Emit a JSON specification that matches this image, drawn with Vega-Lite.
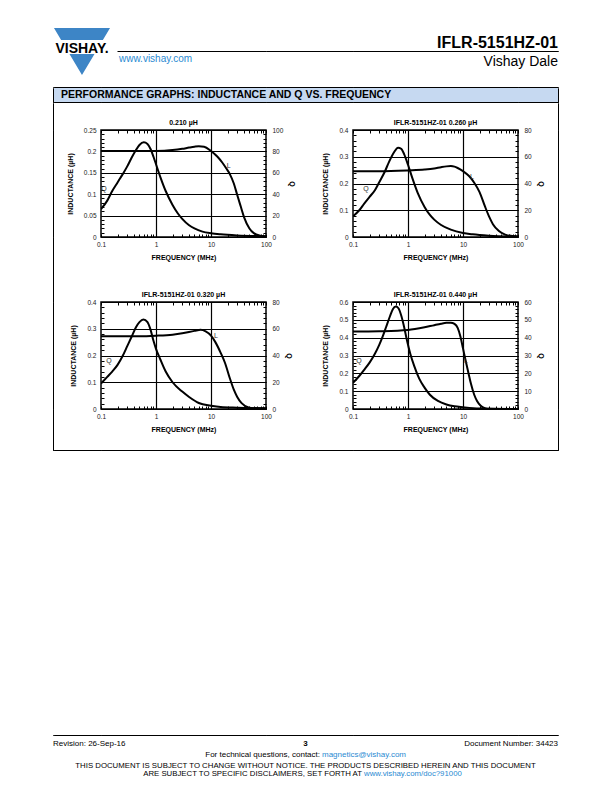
{
"$schema":"https://vega.github.io/schema/vega-lite/v6.json",
"padding":0,
"autosize":{"type":"pad"},
"background":"white",
"datasets":{
"curves":[
{"c":"c1","s":"L","f":0.1,"v":0.201},{"c":"c1","s":"L","f":0.2,"v":0.201},{"c":"c1","s":"L","f":0.5,"v":0.201},{"c":"c1","s":"L","f":1,"v":0.201},{"c":"c1","s":"L","f":2,"v":0.203},{"c":"c1","s":"L","f":3,"v":0.206},{"c":"c1","s":"L","f":4,"v":0.209},{"c":"c1","s":"L","f":5,"v":0.211},{"c":"c1","s":"L","f":6,"v":0.212},{"c":"c1","s":"L","f":7.5,"v":0.211},{"c":"c1","s":"L","f":10,"v":0.201},{"c":"c1","s":"L","f":13,"v":0.188},{"c":"c1","s":"L","f":16,"v":0.174},{"c":"c1","s":"L","f":19,"v":0.16},{"c":"c1","s":"L","f":22,"v":0.147},{"c":"c1","s":"L","f":26,"v":0.125},{"c":"c1","s":"L","f":30,"v":0.098},{"c":"c1","s":"L","f":35,"v":0.07},{"c":"c1","s":"L","f":40,"v":0.046},{"c":"c1","s":"L","f":50,"v":0.02},{"c":"c1","s":"L","f":60,"v":0.009},{"c":"c1","s":"L","f":80,"v":0.003},{"c":"c1","s":"L","f":100,"v":0.001},
{"c":"c1","s":"Q","f":0.1,"v":26},{"c":"c1","s":"Q","f":0.13,"v":34},{"c":"c1","s":"Q","f":0.16,"v":43},{"c":"c1","s":"Q","f":0.2,"v":51},{"c":"c1","s":"Q","f":0.25,"v":59},{"c":"c1","s":"Q","f":0.3,"v":66},{"c":"c1","s":"Q","f":0.36,"v":74},{"c":"c1","s":"Q","f":0.43,"v":81},{"c":"c1","s":"Q","f":0.5,"v":86},{"c":"c1","s":"Q","f":0.6,"v":88.5},{"c":"c1","s":"Q","f":0.7,"v":87},{"c":"c1","s":"Q","f":0.8,"v":82},{"c":"c1","s":"Q","f":0.9,"v":75},{"c":"c1","s":"Q","f":1,"v":68},{"c":"c1","s":"Q","f":1.2,"v":56},{"c":"c1","s":"Q","f":1.5,"v":43},{"c":"c1","s":"Q","f":2,"v":30},{"c":"c1","s":"Q","f":2.5,"v":22},{"c":"c1","s":"Q","f":3,"v":17},{"c":"c1","s":"Q","f":4,"v":11},{"c":"c1","s":"Q","f":5,"v":8},{"c":"c1","s":"Q","f":7,"v":5},{"c":"c1","s":"Q","f":10,"v":3.5},{"c":"c1","s":"Q","f":15,"v":2.5},{"c":"c1","s":"Q","f":30,"v":1.5},{"c":"c1","s":"Q","f":100,"v":0.8},
{"c":"c2","s":"L","f":0.1,"v":0.246},{"c":"c2","s":"L","f":0.3,"v":0.246},{"c":"c2","s":"L","f":1,"v":0.249},{"c":"c2","s":"L","f":2,"v":0.252},{"c":"c2","s":"L","f":3,"v":0.256},{"c":"c2","s":"L","f":4,"v":0.261},{"c":"c2","s":"L","f":5,"v":0.264},{"c":"c2","s":"L","f":6,"v":0.265},{"c":"c2","s":"L","f":7,"v":0.263},{"c":"c2","s":"L","f":8,"v":0.258},{"c":"c2","s":"L","f":10,"v":0.246},{"c":"c2","s":"L","f":13,"v":0.227},{"c":"c2","s":"L","f":16,"v":0.203},{"c":"c2","s":"L","f":20,"v":0.168},{"c":"c2","s":"L","f":25,"v":0.115},{"c":"c2","s":"L","f":30,"v":0.075},{"c":"c2","s":"L","f":35,"v":0.048},{"c":"c2","s":"L","f":45,"v":0.022},{"c":"c2","s":"L","f":60,"v":0.008},{"c":"c2","s":"L","f":100,"v":0.002},
{"c":"c2","s":"Q","f":0.1,"v":15.5},{"c":"c2","s":"Q","f":0.13,"v":20},{"c":"c2","s":"Q","f":0.16,"v":25},{"c":"c2","s":"Q","f":0.2,"v":30},{"c":"c2","s":"Q","f":0.25,"v":35},{"c":"c2","s":"Q","f":0.3,"v":41},{"c":"c2","s":"Q","f":0.38,"v":49},{"c":"c2","s":"Q","f":0.45,"v":56},{"c":"c2","s":"Q","f":0.55,"v":63},{"c":"c2","s":"Q","f":0.66,"v":66.8},{"c":"c2","s":"Q","f":0.75,"v":66},{"c":"c2","s":"Q","f":0.85,"v":62},{"c":"c2","s":"Q","f":1,"v":54},{"c":"c2","s":"Q","f":1.2,"v":44},{"c":"c2","s":"Q","f":1.5,"v":33},{"c":"c2","s":"Q","f":2,"v":22.5},{"c":"c2","s":"Q","f":2.5,"v":16.5},{"c":"c2","s":"Q","f":3,"v":13},{"c":"c2","s":"Q","f":4,"v":9},{"c":"c2","s":"Q","f":6,"v":5.5},{"c":"c2","s":"Q","f":10,"v":3},{"c":"c2","s":"Q","f":15,"v":2},{"c":"c2","s":"Q","f":30,"v":1},{"c":"c2","s":"Q","f":100,"v":0.3},
{"c":"c3","s":"L","f":0.1,"v":0.272},{"c":"c3","s":"L","f":0.5,"v":0.272},{"c":"c3","s":"L","f":1,"v":0.274},{"c":"c3","s":"L","f":2,"v":0.278},{"c":"c3","s":"L","f":3,"v":0.283},{"c":"c3","s":"L","f":5,"v":0.292},{"c":"c3","s":"L","f":6.5,"v":0.296},{"c":"c3","s":"L","f":8,"v":0.29},{"c":"c3","s":"L","f":10,"v":0.274},{"c":"c3","s":"L","f":12,"v":0.25},{"c":"c3","s":"L","f":15,"v":0.21},{"c":"c3","s":"L","f":18,"v":0.172},{"c":"c3","s":"L","f":22,"v":0.115},{"c":"c3","s":"L","f":26,"v":0.072},{"c":"c3","s":"L","f":30,"v":0.045},{"c":"c3","s":"L","f":36,"v":0.022},{"c":"c3","s":"L","f":48,"v":0.006},{"c":"c3","s":"L","f":60,"v":0.003},{"c":"c3","s":"L","f":100,"v":0.002},
{"c":"c3","s":"Q","f":0.1,"v":19},{"c":"c3","s":"Q","f":0.13,"v":24},{"c":"c3","s":"Q","f":0.16,"v":28},{"c":"c3","s":"Q","f":0.2,"v":33},{"c":"c3","s":"Q","f":0.25,"v":40},{"c":"c3","s":"Q","f":0.3,"v":47},{"c":"c3","s":"Q","f":0.36,"v":54},{"c":"c3","s":"Q","f":0.43,"v":61},{"c":"c3","s":"Q","f":0.5,"v":65},{"c":"c3","s":"Q","f":0.59,"v":67},{"c":"c3","s":"Q","f":0.7,"v":65},{"c":"c3","s":"Q","f":0.8,"v":59},{"c":"c3","s":"Q","f":0.9,"v":51},{"c":"c3","s":"Q","f":1,"v":45},{"c":"c3","s":"Q","f":1.2,"v":37},{"c":"c3","s":"Q","f":1.5,"v":28},{"c":"c3","s":"Q","f":2,"v":20},{"c":"c3","s":"Q","f":3,"v":13},{"c":"c3","s":"Q","f":4,"v":9},{"c":"c3","s":"Q","f":6,"v":4.5},{"c":"c3","s":"Q","f":10,"v":2.5},{"c":"c3","s":"Q","f":15,"v":1.5},{"c":"c3","s":"Q","f":30,"v":1},{"c":"c3","s":"Q","f":100,"v":0.5},
{"c":"c4","s":"L","f":0.1,"v":0.434},{"c":"c4","s":"L","f":0.3,"v":0.436},{"c":"c4","s":"L","f":1,"v":0.443},{"c":"c4","s":"L","f":2,"v":0.458},{"c":"c4","s":"L","f":3,"v":0.47},{"c":"c4","s":"L","f":4,"v":0.478},{"c":"c4","s":"L","f":5,"v":0.483},{"c":"c4","s":"L","f":6,"v":0.484},{"c":"c4","s":"L","f":7,"v":0.477},{"c":"c4","s":"L","f":8,"v":0.455},{"c":"c4","s":"L","f":9,"v":0.405},{"c":"c4","s":"L","f":10,"v":0.34},{"c":"c4","s":"L","f":11,"v":0.28},{"c":"c4","s":"L","f":12.5,"v":0.205},{"c":"c4","s":"L","f":14,"v":0.14},{"c":"c4","s":"L","f":16,"v":0.08},{"c":"c4","s":"L","f":18,"v":0.045},{"c":"c4","s":"L","f":21,"v":0.018},{"c":"c4","s":"L","f":25,"v":0.005},{"c":"c4","s":"L","f":30,"v":0.001},{"c":"c4","s":"L","f":100,"v":0},
{"c":"c4","s":"Q","f":0.1,"v":14.7},{"c":"c4","s":"Q","f":0.13,"v":18.5},{"c":"c4","s":"Q","f":0.16,"v":22},{"c":"c4","s":"Q","f":0.2,"v":26},{"c":"c4","s":"Q","f":0.25,"v":31},{"c":"c4","s":"Q","f":0.3,"v":36},{"c":"c4","s":"Q","f":0.35,"v":41},{"c":"c4","s":"Q","f":0.4,"v":46},{"c":"c4","s":"Q","f":0.47,"v":52},{"c":"c4","s":"Q","f":0.53,"v":56},{"c":"c4","s":"Q","f":0.6,"v":57.5},{"c":"c4","s":"Q","f":0.67,"v":56.5},{"c":"c4","s":"Q","f":0.76,"v":52},{"c":"c4","s":"Q","f":0.85,"v":46},{"c":"c4","s":"Q","f":0.95,"v":39},{"c":"c4","s":"Q","f":1.1,"v":31},{"c":"c4","s":"Q","f":1.3,"v":24},{"c":"c4","s":"Q","f":1.6,"v":17},{"c":"c4","s":"Q","f":2,"v":12},{"c":"c4","s":"Q","f":2.5,"v":8},{"c":"c4","s":"Q","f":3.5,"v":4.5},{"c":"c4","s":"Q","f":5,"v":2.5},{"c":"c4","s":"Q","f":7,"v":1.5},{"c":"c4","s":"Q","f":10,"v":1},{"c":"c4","s":"Q","f":20,"v":0.3},{"c":"c4","s":"Q","f":100,"v":0}
],
"labels":[
{"c":"c1","t":"L","f":21,"v":0.165},{"c":"c1","t":"Q","f":0.113,"v":0.113},
{"c":"c2","t":"L","f":14.6,"v":0.223},{"c":"c2","t":"Q","f":0.172,"v":0.181},
{"c":"c3","t":"L","f":12.3,"v":0.273},{"c":"c3","t":"Q","f":0.14,"v":0.179},
{"c":"c4","t":"L","f":11.3,"v":0.269},{"c":"c4","t":"Q","f":0.129,"v":0.269}
],
"logo":[{"t":"VISHAY."}]
},
"columns":8,
"spacing":0,
"bounds":"flush",
"align":"each",
"concat":[
{"width":53,"height":28,"data":{"values":[]},"mark":"point"},
{"width":0.01,"height":0.01,"data":{"values":[]},"mark":"point"},{"width":0.01,"height":0.01,"data":{"values":[]},"mark":"point"},{"width":0.01,"height":0.01,"data":{"values":[]},"mark":"point"},{"width":0.01,"height":0.01,"data":{"values":[]},"mark":"point"},{"width":0.01,"height":0.01,"data":{"values":[]},"mark":"point"},{"width":0.01,"height":0.01,"data":{"values":[]},"mark":"point"},{"width":0.01,"height":0.01,"data":{"values":[]},"mark":"point"},

{"width":53,"height":23,"data":{"values":[]},"mark":"point"},
{"width":0.01,"height":0.01,"data":{"values":[]},"mark":"point"},
{"width":47,"height":23,"data":{"name":"logo"},"layer":[
  {"mark":{"type":"point","shape":"M-0.811,-0.397L1.121,-0.397L0.875,0.017L-0.565,0.017Z M-0.277,0.5L0.587,0.5L0.155,1.224Z","size":3364,"filled":true,"color":"#3d85c6","opacity":1,"strokeWidth":0},"encoding":{}},
  {"mark":{"type":"text","fontSize":14,"fontWeight":"bold","dx":4.5,"dy":9,"color":"black","font":"Liberation Sans"},"encoding":{"text":{"field":"t"}}}
]},
{"width":0.01,"height":0.01,"data":{"values":[]},"mark":"point"},{"width":0.01,"height":0.01,"data":{"values":[]},"mark":"point"},{"width":0.01,"height":0.01,"data":{"values":[]},"mark":"point"},{"width":0.01,"height":0.01,"data":{"values":[]},"mark":"point"},{"width":0.01,"height":0.01,"data":{"values":[]},"mark":"point"},

{"width":0.01,"height":0.01,"data":{"values":[]},"mark":"point"},{"width":0.01,"height":0.01,"data":{"values":[]},"mark":"point"},{"width":0.01,"height":0.01,"data":{"values":[]},"mark":"point"},
{"width":165,"height":0.01,"data":{"values":[]},"mark":"point","view":{"stroke":"black","strokeWidth":1,"strokeDash":[0,16,149,400]}},
{"width":87,"height":0.01,"data":{"values":[]},"mark":"point","view":{"stroke":"black","strokeWidth":1}},
{"width":165,"height":0.01,"data":{"values":[]},"mark":"point","view":{"stroke":"black","strokeWidth":1}},
{"width":40,"height":0.01,"data":{"values":[]},"mark":"point","view":{"stroke":"black","strokeWidth":1},
 "title":{"text":"IFLR-5151HZ-01","orient":"top","anchor":"end","frame":"group","offset":0,"dy":12.5,"baseline":"alphabetic","fontSize":16,"fontWeight":"bold","color":"black"}},
{"width":0.01,"height":0.01,"data":{"values":[]},"mark":"point"},

{"width":0.01,"height":0.01,"data":{"values":[]},"mark":"point"},{"width":0.01,"height":0.01,"data":{"values":[]},"mark":"point"},{"width":0.01,"height":0.01,"data":{"values":[]},"mark":"point"},
{"width":165,"height":0.01,"data":{"values":[]},"mark":"point",
 "title":{"text":"www.vishay.com","orient":"bottom","anchor":"start","frame":"group","offset":2,"baseline":"top","fontSize":10,"fontWeight":"normal","color":"#2a8ad2","dx":18}},
{"width":0.01,"height":0.01,"data":{"values":[]},"mark":"point"},{"width":0.01,"height":0.01,"data":{"values":[]},"mark":"point"},
{"width":40,"height":0.01,"data":{"values":[]},"mark":"point",
 "title":{"text":"Vishay Dale","orient":"bottom","anchor":"end","frame":"group","offset":3,"baseline":"top","fontSize":14,"fontWeight":"normal","color":"black"}},
{"width":0.01,"height":0.01,"data":{"values":[]},"mark":"point"},

{"width":53,"height":34,"data":{"values":[]},"mark":"point"},
{"width":0.01,"height":0.01,"data":{"values":[]},"mark":"point"},{"width":0.01,"height":0.01,"data":{"values":[]},"mark":"point"},{"width":0.01,"height":0.01,"data":{"values":[]},"mark":"point"},{"width":0.01,"height":0.01,"data":{"values":[]},"mark":"point"},{"width":0.01,"height":0.01,"data":{"values":[]},"mark":"point"},{"width":0.01,"height":0.01,"data":{"values":[]},"mark":"point"},{"width":0.01,"height":0.01,"data":{"values":[]},"mark":"point"},

{"width":0.01,"height":0.01,"data":{"values":[]},"mark":"point"},
{"width":1,"height":0.01,"data":{"values":[]},"mark":"point","view":{"stroke":"black","strokeWidth":1}},
{"width":47,"height":0.01,"data":{"values":[]},"mark":"point","view":{"stroke":"black","strokeWidth":1}},
{"width":165,"height":0.01,"data":{"values":[]},"mark":"point","view":{"stroke":"black","strokeWidth":1}},
{"width":87,"height":0.01,"data":{"values":[]},"mark":"point","view":{"stroke":"black","strokeWidth":1}},
{"width":165,"height":0.01,"data":{"values":[]},"mark":"point","view":{"stroke":"black","strokeWidth":1}},
{"width":40,"height":0.01,"data":{"values":[]},"mark":"point","view":{"stroke":"black","strokeWidth":1}},
{"width":0.01,"height":0.01,"data":{"values":[]},"mark":"point"},

{"width":0.01,"height":0.01,"data":{"values":[]},"mark":"point"},
{"width":0.01,"height":14,"data":{"values":[]},"mark":"point","view":{"stroke":"black","strokeWidth":1}},
{"width":47,"height":14,"data":{"values":[]},"mark":"point","view":{"fill":"#c6d9f1"}},
{"width":165,"height":14,"data":{"values":[]},"mark":"point","view":{"fill":"#c6d9f1"}},
{"width":87,"height":14,"data":{"values":[]},"mark":"point","view":{"fill":"#c6d9f1"}},
{"width":165,"height":14,"data":{"values":[]},"mark":"point","view":{"fill":"#c6d9f1"}},
{"width":40,"height":14,"data":{"values":[]},"mark":"point","view":{"fill":"#c6d9f1"}},
{"width":0.01,"height":14,"data":{"values":[]},"mark":"point","view":{"stroke":"black","strokeWidth":1}},

{"width":0.01,"height":0.01,"data":{"values":[]},"mark":"point"},
{"width":1,"height":0.01,"data":{"values":[]},"mark":"point","view":{"stroke":"black","strokeWidth":1}},
{"width":47,"height":0.01,"data":{"values":[]},"mark":"point","view":{"stroke":"black","strokeWidth":1},
 "title":{"text":"PERFORMANCE GRAPHS: INDUCTANCE AND Q VS. FREQUENCY","orient":"top","anchor":"start","frame":"group","offset":0,"dy":6.5,"baseline":"alphabetic","fontSize":10.5,"fontWeight":"bold","color":"black","dx":7}},
{"width":165,"height":0.01,"data":{"values":[]},"mark":"point","view":{"stroke":"black","strokeWidth":1}},
{"width":87,"height":0.01,"data":{"values":[]},"mark":"point","view":{"stroke":"black","strokeWidth":1}},
{"width":165,"height":0.01,"data":{"values":[]},"mark":"point","view":{"stroke":"black","strokeWidth":1}},
{"width":40,"height":0.01,"data":{"values":[]},"mark":"point","view":{"stroke":"black","strokeWidth":1}},
{"width":0.01,"height":0.01,"data":{"values":[]},"mark":"point"},

{"width":0.01,"height":0.01,"data":{"values":[]},"mark":"point"},
{"width":0.01,"height":27,"data":{"values":[]},"mark":"point","view":{"stroke":"black","strokeWidth":1}},
{"width":0.01,"height":0.01,"data":{"values":[]},"mark":"point"},{"width":0.01,"height":0.01,"data":{"values":[]},"mark":"point"},{"width":0.01,"height":0.01,"data":{"values":[]},"mark":"point"},{"width":0.01,"height":0.01,"data":{"values":[]},"mark":"point"},{"width":0.01,"height":0.01,"data":{"values":[]},"mark":"point"},
{"width":0.01,"height":27,"data":{"values":[]},"mark":"point","view":{"stroke":"black","strokeWidth":1}},

{"width":0.01,"height":0.01,"data":{"values":[]},"mark":"point"},
{"width":0.01,"height":107,"data":{"values":[]},"mark":"point","view":{"stroke":"black","strokeWidth":1}},
{"width":0.01,"height":0.01,"data":{"values":[]},"mark":"point"},
{"width":165,"height":107,"view":{"stroke":"black","strokeWidth":1.5},
 "title":{"text":"0.210 µH","fontSize":7,"fontWeight":"bold","anchor":"middle","frame":"group","offset":1,"color":"black"},
 "layer":[
  {"layer":[
   {"data":{"name":"curves"},"transform":[{"filter":"datum.c=='c1' && datum.s=='L'"}],
    "mark":{"type":"line","color":"black","strokeWidth":2,"interpolate":"monotone","clip":true},
    "encoding":{
     "x":{"field":"f","type":"quantitative","scale":{"type":"log","domain":[0.1,100],"nice":false},"axis":{"orient":"bottom","values":[0.1,0.2,0.3,0.4,0.5,0.6,0.7,0.8,0.9,1,2,3,4,5,6,7,8,9,10,20,30,40,50,60,70,80,90,100],"labelExpr":"datum.value==0.1?'0.1':datum.value==1?'1':datum.value==10?'10':datum.value==100?'100':''","gridOpacity":{"condition":{"test":"datum.value==1||datum.value==10","value":1},"value":0},"tickSize":-3,"labelPadding":7,"title":"FREQUENCY (MHz)","titlePadding":6,"labelFlush":false,"labelOverlap":false}},
     "y":{"field":"v","type":"quantitative","scale":{"domain":[0,0.25],"nice":false},"axis":{"orient":"left","values":[0,0.01,0.02,0.03,0.04,0.05,0.06,0.07,0.08,0.09,0.1,0.11,0.12,0.13,0.14,0.15,0.16,0.17,0.18,0.19,0.2,0.21,0.22,0.23,0.24,0.25],"labelExpr":"round(datum.value*100)%5==0?format(datum.value,'~g'):''","gridOpacity":{"condition":{"test":"round(datum.value*100)%5==0","value":1},"value":0},"tickSize":-3,"labelPadding":8,"title":"INDUCTANCE (µH)","titlePadding":10,"labelFlush":false,"labelOverlap":false}}}},
   {"data":{"name":"labels"},"transform":[{"filter":"datum.c=='c1'"}],
    "mark":{"type":"text","fontSize":7,"color":"#333"},
    "encoding":{
     "x":{"field":"f","type":"quantitative","scale":{"type":"log","domain":[0.1,100],"nice":false},"axis":{"orient":"bottom","values":[0.1,0.2,0.3,0.4,0.5,0.6,0.7,0.8,0.9,1,2,3,4,5,6,7,8,9,10,20,30,40,50,60,70,80,90,100],"labelExpr":"datum.value==0.1?'0.1':datum.value==1?'1':datum.value==10?'10':datum.value==100?'100':''","gridOpacity":{"condition":{"test":"datum.value==1||datum.value==10","value":1},"value":0},"tickSize":-3,"labelPadding":7,"title":"FREQUENCY (MHz)","titlePadding":6,"labelFlush":false,"labelOverlap":false}},
     "y":{"field":"v","type":"quantitative","scale":{"domain":[0,0.25],"nice":false},"axis":{"orient":"left","values":[0,0.01,0.02,0.03,0.04,0.05,0.06,0.07,0.08,0.09,0.1,0.11,0.12,0.13,0.14,0.15,0.16,0.17,0.18,0.19,0.2,0.21,0.22,0.23,0.24,0.25],"labelExpr":"round(datum.value*100)%5==0?format(datum.value,'~g'):''","gridOpacity":{"condition":{"test":"round(datum.value*100)%5==0","value":1},"value":0},"tickSize":-3,"labelPadding":8,"title":"INDUCTANCE (µH)","titlePadding":10,"labelFlush":false,"labelOverlap":false}},
     "text":{"field":"t"}}}
  ]},
  {"data":{"name":"curves"},"transform":[{"filter":"datum.c=='c1' && datum.s=='Q'"}],
   "mark":{"type":"line","color":"black","strokeWidth":2,"interpolate":"monotone","clip":true},
   "encoding":{
    "x":{"field":"f","type":"quantitative","scale":{"type":"log","domain":[0.1,100],"nice":false},"axis":{"orient":"top","values":[0.1,0.2,0.3,0.4,0.5,0.6,0.7,0.8,0.9,1,2,3,4,5,6,7,8,9,10,20,30,40,50,60,70,80,90,100],"labels":false,"grid":false,"tickSize":-3,"title":null}},
    "y":{"field":"v","type":"quantitative","scale":{"domain":[0,100],"nice":false},"axis":{"orient":"right","values":[0,4,8,12,16,20,24,28,32,36,40,44,48,52,56,60,64,68,72,76,80,84,88,92,96,100],"labelExpr":"datum.value%20==0?format(datum.value,'~g'):''","grid":false,"tickSize":-3,"labelPadding":9,"title":"Q","titlePadding":6,"labelFlush":false,"labelOverlap":false}}}}
 ],
 "resolve":{"scale":{"y":"independent"},"axis":{"x":"independent","y":"independent"}}},
{"width":0.01,"height":0.01,"data":{"values":[]},"mark":"point"},
{"width":165,"height":107,"view":{"stroke":"black","strokeWidth":1.5},
 "title":{"text":"IFLR-5151HZ-01 0.260 µH","fontSize":7,"fontWeight":"bold","anchor":"middle","frame":"group","offset":1,"color":"black"},
 "layer":[
  {"layer":[
   {"data":{"name":"curves"},"transform":[{"filter":"datum.c=='c2' && datum.s=='L'"}],
    "mark":{"type":"line","color":"black","strokeWidth":2,"interpolate":"monotone","clip":true},
    "encoding":{
     "x":{"field":"f","type":"quantitative","scale":{"type":"log","domain":[0.1,100],"nice":false},"axis":{"orient":"bottom","values":[0.1,0.2,0.3,0.4,0.5,0.6,0.7,0.8,0.9,1,2,3,4,5,6,7,8,9,10,20,30,40,50,60,70,80,90,100],"labelExpr":"datum.value==0.1?'0.1':datum.value==1?'1':datum.value==10?'10':datum.value==100?'100':''","gridOpacity":{"condition":{"test":"datum.value==1||datum.value==10","value":1},"value":0},"tickSize":-3,"labelPadding":7,"title":"FREQUENCY (MHz)","titlePadding":6,"labelFlush":false,"labelOverlap":false}},
     "y":{"field":"v","type":"quantitative","scale":{"domain":[0,0.4],"nice":false},"axis":{"orient":"left","values":[0,0.02,0.04,0.06,0.08,0.1,0.12,0.14,0.16,0.18,0.2,0.22,0.24,0.26,0.28,0.3,0.32,0.34,0.36,0.38,0.4],"labelExpr":"round(datum.value*100)%10==0?format(datum.value,'~g'):''","gridOpacity":{"condition":{"test":"round(datum.value*100)%10==0","value":1},"value":0},"tickSize":-3,"labelPadding":8,"title":"INDUCTANCE (µH)","titlePadding":10,"labelFlush":false,"labelOverlap":false}}}},
   {"data":{"name":"labels"},"transform":[{"filter":"datum.c=='c2'"}],
    "mark":{"type":"text","fontSize":7,"color":"#333"},
    "encoding":{
     "x":{"field":"f","type":"quantitative","scale":{"type":"log","domain":[0.1,100],"nice":false},"axis":{"orient":"bottom","values":[0.1,0.2,0.3,0.4,0.5,0.6,0.7,0.8,0.9,1,2,3,4,5,6,7,8,9,10,20,30,40,50,60,70,80,90,100],"labelExpr":"datum.value==0.1?'0.1':datum.value==1?'1':datum.value==10?'10':datum.value==100?'100':''","gridOpacity":{"condition":{"test":"datum.value==1||datum.value==10","value":1},"value":0},"tickSize":-3,"labelPadding":7,"title":"FREQUENCY (MHz)","titlePadding":6,"labelFlush":false,"labelOverlap":false}},
     "y":{"field":"v","type":"quantitative","scale":{"domain":[0,0.4],"nice":false},"axis":{"orient":"left","values":[0,0.02,0.04,0.06,0.08,0.1,0.12,0.14,0.16,0.18,0.2,0.22,0.24,0.26,0.28,0.3,0.32,0.34,0.36,0.38,0.4],"labelExpr":"round(datum.value*100)%10==0?format(datum.value,'~g'):''","gridOpacity":{"condition":{"test":"round(datum.value*100)%10==0","value":1},"value":0},"tickSize":-3,"labelPadding":8,"title":"INDUCTANCE (µH)","titlePadding":10,"labelFlush":false,"labelOverlap":false}},
     "text":{"field":"t"}}}
  ]},
  {"data":{"name":"curves"},"transform":[{"filter":"datum.c=='c2' && datum.s=='Q'"}],
   "mark":{"type":"line","color":"black","strokeWidth":2,"interpolate":"monotone","clip":true},
   "encoding":{
    "x":{"field":"f","type":"quantitative","scale":{"type":"log","domain":[0.1,100],"nice":false},"axis":{"orient":"top","values":[0.1,0.2,0.3,0.4,0.5,0.6,0.7,0.8,0.9,1,2,3,4,5,6,7,8,9,10,20,30,40,50,60,70,80,90,100],"labels":false,"grid":false,"tickSize":-3,"title":null}},
    "y":{"field":"v","type":"quantitative","scale":{"domain":[0,80],"nice":false},"axis":{"orient":"right","values":[0,4,8,12,16,20,24,28,32,36,40,44,48,52,56,60,64,68,72,76,80],"labelExpr":"datum.value%20==0?format(datum.value,'~g'):''","grid":false,"tickSize":-3,"labelPadding":9,"title":"Q","titlePadding":6,"labelFlush":false,"labelOverlap":false}}}}
 ],
 "resolve":{"scale":{"y":"independent"},"axis":{"x":"independent","y":"independent"}}},
{"width":0.01,"height":0.01,"data":{"values":[]},"mark":"point"},
{"width":0.01,"height":107,"data":{"values":[]},"mark":"point","view":{"stroke":"black","strokeWidth":1}},

{"width":0.01,"height":0.01,"data":{"values":[]},"mark":"point"},
{"width":0.01,"height":65,"data":{"values":[]},"mark":"point","view":{"stroke":"black","strokeWidth":1}},
{"width":0.01,"height":0.01,"data":{"values":[]},"mark":"point"},{"width":0.01,"height":0.01,"data":{"values":[]},"mark":"point"},{"width":0.01,"height":0.01,"data":{"values":[]},"mark":"point"},{"width":0.01,"height":0.01,"data":{"values":[]},"mark":"point"},{"width":0.01,"height":0.01,"data":{"values":[]},"mark":"point"},
{"width":0.01,"height":65,"data":{"values":[]},"mark":"point","view":{"stroke":"black","strokeWidth":1}},

{"width":0.01,"height":0.01,"data":{"values":[]},"mark":"point"},
{"width":0.01,"height":107,"data":{"values":[]},"mark":"point","view":{"stroke":"black","strokeWidth":1}},
{"width":0.01,"height":0.01,"data":{"values":[]},"mark":"point"},
{"width":165,"height":107,"view":{"stroke":"black","strokeWidth":1.5},
 "title":{"text":"IFLR-5151HZ-01 0.320 µH","fontSize":7,"fontWeight":"bold","anchor":"middle","frame":"group","offset":1,"color":"black"},
 "layer":[
  {"layer":[
   {"data":{"name":"curves"},"transform":[{"filter":"datum.c=='c3' && datum.s=='L'"}],
    "mark":{"type":"line","color":"black","strokeWidth":2,"interpolate":"monotone","clip":true},
    "encoding":{
     "x":{"field":"f","type":"quantitative","scale":{"type":"log","domain":[0.1,100],"nice":false},"axis":{"orient":"bottom","values":[0.1,0.2,0.3,0.4,0.5,0.6,0.7,0.8,0.9,1,2,3,4,5,6,7,8,9,10,20,30,40,50,60,70,80,90,100],"labelExpr":"datum.value==0.1?'0.1':datum.value==1?'1':datum.value==10?'10':datum.value==100?'100':''","gridOpacity":{"condition":{"test":"datum.value==1||datum.value==10","value":1},"value":0},"tickSize":-3,"labelPadding":7,"title":"FREQUENCY (MHz)","titlePadding":6,"labelFlush":false,"labelOverlap":false}},
     "y":{"field":"v","type":"quantitative","scale":{"domain":[0,0.4],"nice":false},"axis":{"orient":"left","values":[0,0.02,0.04,0.06,0.08,0.1,0.12,0.14,0.16,0.18,0.2,0.22,0.24,0.26,0.28,0.3,0.32,0.34,0.36,0.38,0.4],"labelExpr":"round(datum.value*100)%10==0?format(datum.value,'~g'):''","gridOpacity":{"condition":{"test":"round(datum.value*100)%10==0","value":1},"value":0},"tickSize":-3,"labelPadding":8,"title":"INDUCTANCE (µH)","titlePadding":10,"labelFlush":false,"labelOverlap":false}}}},
   {"data":{"name":"labels"},"transform":[{"filter":"datum.c=='c3'"}],
    "mark":{"type":"text","fontSize":7,"color":"#333"},
    "encoding":{
     "x":{"field":"f","type":"quantitative","scale":{"type":"log","domain":[0.1,100],"nice":false},"axis":{"orient":"bottom","values":[0.1,0.2,0.3,0.4,0.5,0.6,0.7,0.8,0.9,1,2,3,4,5,6,7,8,9,10,20,30,40,50,60,70,80,90,100],"labelExpr":"datum.value==0.1?'0.1':datum.value==1?'1':datum.value==10?'10':datum.value==100?'100':''","gridOpacity":{"condition":{"test":"datum.value==1||datum.value==10","value":1},"value":0},"tickSize":-3,"labelPadding":7,"title":"FREQUENCY (MHz)","titlePadding":6,"labelFlush":false,"labelOverlap":false}},
     "y":{"field":"v","type":"quantitative","scale":{"domain":[0,0.4],"nice":false},"axis":{"orient":"left","values":[0,0.02,0.04,0.06,0.08,0.1,0.12,0.14,0.16,0.18,0.2,0.22,0.24,0.26,0.28,0.3,0.32,0.34,0.36,0.38,0.4],"labelExpr":"round(datum.value*100)%10==0?format(datum.value,'~g'):''","gridOpacity":{"condition":{"test":"round(datum.value*100)%10==0","value":1},"value":0},"tickSize":-3,"labelPadding":8,"title":"INDUCTANCE (µH)","titlePadding":10,"labelFlush":false,"labelOverlap":false}},
     "text":{"field":"t"}}}
  ]},
  {"data":{"name":"curves"},"transform":[{"filter":"datum.c=='c3' && datum.s=='Q'"}],
   "mark":{"type":"line","color":"black","strokeWidth":2,"interpolate":"monotone","clip":true},
   "encoding":{
    "x":{"field":"f","type":"quantitative","scale":{"type":"log","domain":[0.1,100],"nice":false},"axis":{"orient":"top","values":[0.1,0.2,0.3,0.4,0.5,0.6,0.7,0.8,0.9,1,2,3,4,5,6,7,8,9,10,20,30,40,50,60,70,80,90,100],"labels":false,"grid":false,"tickSize":-3,"title":null}},
    "y":{"field":"v","type":"quantitative","scale":{"domain":[0,80],"nice":false},"axis":{"orient":"right","values":[0,4,8,12,16,20,24,28,32,36,40,44,48,52,56,60,64,68,72,76,80],"labelExpr":"datum.value%20==0?format(datum.value,'~g'):''","grid":false,"tickSize":-3,"labelPadding":9,"title":"Q","titlePadding":6,"labelFlush":false,"labelOverlap":false}}}}
 ],
 "resolve":{"scale":{"y":"independent"},"axis":{"x":"independent","y":"independent"}}},
{"width":0.01,"height":0.01,"data":{"values":[]},"mark":"point"},
{"width":165,"height":107,"view":{"stroke":"black","strokeWidth":1.5},
 "title":{"text":"IFLR-5151HZ-01 0.440 µH","fontSize":7,"fontWeight":"bold","anchor":"middle","frame":"group","offset":1,"color":"black"},
 "layer":[
  {"layer":[
   {"data":{"name":"curves"},"transform":[{"filter":"datum.c=='c4' && datum.s=='L'"}],
    "mark":{"type":"line","color":"black","strokeWidth":2,"interpolate":"monotone","clip":true},
    "encoding":{
     "x":{"field":"f","type":"quantitative","scale":{"type":"log","domain":[0.1,100],"nice":false},"axis":{"orient":"bottom","values":[0.1,0.2,0.3,0.4,0.5,0.6,0.7,0.8,0.9,1,2,3,4,5,6,7,8,9,10,20,30,40,50,60,70,80,90,100],"labelExpr":"datum.value==0.1?'0.1':datum.value==1?'1':datum.value==10?'10':datum.value==100?'100':''","gridOpacity":{"condition":{"test":"datum.value==1||datum.value==10","value":1},"value":0},"tickSize":-3,"labelPadding":7,"title":"FREQUENCY (MHz)","titlePadding":6,"labelFlush":false,"labelOverlap":false}},
     "y":{"field":"v","type":"quantitative","scale":{"domain":[0,0.6],"nice":false},"axis":{"orient":"left","values":[0,0.02,0.04,0.06,0.08,0.1,0.12,0.14,0.16,0.18,0.2,0.22,0.24,0.26,0.28,0.3,0.32,0.34,0.36,0.38,0.4,0.42,0.44,0.46,0.48,0.5,0.52,0.54,0.56,0.58,0.6],"labelExpr":"round(datum.value*100)%10==0?format(datum.value,'~g'):''","gridOpacity":{"condition":{"test":"round(datum.value*100)%10==0","value":1},"value":0},"tickSize":-3,"labelPadding":8,"title":"INDUCTANCE (µH)","titlePadding":10,"labelFlush":false,"labelOverlap":false}}}},
   {"data":{"name":"labels"},"transform":[{"filter":"datum.c=='c4'"}],
    "mark":{"type":"text","fontSize":7,"color":"#333"},
    "encoding":{
     "x":{"field":"f","type":"quantitative","scale":{"type":"log","domain":[0.1,100],"nice":false},"axis":{"orient":"bottom","values":[0.1,0.2,0.3,0.4,0.5,0.6,0.7,0.8,0.9,1,2,3,4,5,6,7,8,9,10,20,30,40,50,60,70,80,90,100],"labelExpr":"datum.value==0.1?'0.1':datum.value==1?'1':datum.value==10?'10':datum.value==100?'100':''","gridOpacity":{"condition":{"test":"datum.value==1||datum.value==10","value":1},"value":0},"tickSize":-3,"labelPadding":7,"title":"FREQUENCY (MHz)","titlePadding":6,"labelFlush":false,"labelOverlap":false}},
     "y":{"field":"v","type":"quantitative","scale":{"domain":[0,0.6],"nice":false},"axis":{"orient":"left","values":[0,0.02,0.04,0.06,0.08,0.1,0.12,0.14,0.16,0.18,0.2,0.22,0.24,0.26,0.28,0.3,0.32,0.34,0.36,0.38,0.4,0.42,0.44,0.46,0.48,0.5,0.52,0.54,0.56,0.58,0.6],"labelExpr":"round(datum.value*100)%10==0?format(datum.value,'~g'):''","gridOpacity":{"condition":{"test":"round(datum.value*100)%10==0","value":1},"value":0},"tickSize":-3,"labelPadding":8,"title":"INDUCTANCE (µH)","titlePadding":10,"labelFlush":false,"labelOverlap":false}},
     "text":{"field":"t"}}}
  ]},
  {"data":{"name":"curves"},"transform":[{"filter":"datum.c=='c4' && datum.s=='Q'"}],
   "mark":{"type":"line","color":"black","strokeWidth":2,"interpolate":"monotone","clip":true},
   "encoding":{
    "x":{"field":"f","type":"quantitative","scale":{"type":"log","domain":[0.1,100],"nice":false},"axis":{"orient":"top","values":[0.1,0.2,0.3,0.4,0.5,0.6,0.7,0.8,0.9,1,2,3,4,5,6,7,8,9,10,20,30,40,50,60,70,80,90,100],"labels":false,"grid":false,"tickSize":-3,"title":null}},
    "y":{"field":"v","type":"quantitative","scale":{"domain":[0,60],"nice":false},"axis":{"orient":"right","values":[0,2,4,6,8,10,12,14,16,18,20,22,24,26,28,30,32,34,36,38,40,42,44,46,48,50,52,54,56,58,60],"labelExpr":"datum.value%10==0?format(datum.value,'~g'):''","grid":false,"tickSize":-3,"labelPadding":9,"title":"Q","titlePadding":6,"labelFlush":false,"labelOverlap":false}}}}
 ],
 "resolve":{"scale":{"y":"independent"},"axis":{"x":"independent","y":"independent"}}},
{"width":0.01,"height":0.01,"data":{"values":[]},"mark":"point"},
{"width":0.01,"height":107,"data":{"values":[]},"mark":"point","view":{"stroke":"black","strokeWidth":1}},

{"width":0.01,"height":0.01,"data":{"values":[]},"mark":"point"},
{"width":0.01,"height":41,"data":{"values":[]},"mark":"point","view":{"stroke":"black","strokeWidth":1}},
{"width":0.01,"height":0.01,"data":{"values":[]},"mark":"point"},{"width":0.01,"height":0.01,"data":{"values":[]},"mark":"point"},{"width":0.01,"height":0.01,"data":{"values":[]},"mark":"point"},{"width":0.01,"height":0.01,"data":{"values":[]},"mark":"point"},{"width":0.01,"height":0.01,"data":{"values":[]},"mark":"point"},
{"width":0.01,"height":41,"data":{"values":[]},"mark":"point","view":{"stroke":"black","strokeWidth":1}},

{"width":0.01,"height":0.01,"data":{"values":[]},"mark":"point"},
{"width":1,"height":0.01,"data":{"values":[]},"mark":"point","view":{"stroke":"black","strokeWidth":1}},
{"width":47,"height":0.01,"data":{"values":[]},"mark":"point","view":{"stroke":"black","strokeWidth":1}},
{"width":165,"height":0.01,"data":{"values":[]},"mark":"point","view":{"stroke":"black","strokeWidth":1}},
{"width":87,"height":0.01,"data":{"values":[]},"mark":"point","view":{"stroke":"black","strokeWidth":1}},
{"width":165,"height":0.01,"data":{"values":[]},"mark":"point","view":{"stroke":"black","strokeWidth":1}},
{"width":40,"height":0.01,"data":{"values":[]},"mark":"point","view":{"stroke":"black","strokeWidth":1}},
{"width":0.01,"height":0.01,"data":{"values":[]},"mark":"point"},

{"width":53,"height":284,"data":{"values":[]},"mark":"point"},
{"width":0.01,"height":0.01,"data":{"values":[]},"mark":"point"},{"width":0.01,"height":0.01,"data":{"values":[]},"mark":"point"},{"width":0.01,"height":0.01,"data":{"values":[]},"mark":"point"},{"width":0.01,"height":0.01,"data":{"values":[]},"mark":"point"},{"width":0.01,"height":0.01,"data":{"values":[]},"mark":"point"},{"width":0.01,"height":0.01,"data":{"values":[]},"mark":"point"},{"width":0.01,"height":0.01,"data":{"values":[]},"mark":"point"},

{"width":0.01,"height":0.01,"data":{"values":[]},"mark":"point"},
{"width":1,"height":0.01,"data":{"values":[]},"mark":"point","view":{"stroke":"black","strokeWidth":1},
 "title":{"text":"Revision: 26-Sep-16","orient":"bottom","anchor":"start","frame":"group","offset":5,"baseline":"top","fontSize":8,"fontWeight":"normal","color":"black"}},
{"width":47,"height":0.01,"data":{"values":[]},"mark":"point","view":{"stroke":"black","strokeWidth":1}},
{"width":165,"height":0.01,"data":{"values":[]},"mark":"point","view":{"stroke":"black","strokeWidth":1}},
{"width":87,"height":0.01,"data":{"values":[]},"mark":"point","view":{"stroke":"black","strokeWidth":1},
 "title":{"text":"3","orient":"bottom","anchor":"middle","frame":"group","offset":5,"baseline":"top","fontSize":8,"fontWeight":"bold","color":"black","dx":-4}},
{"width":165,"height":0.01,"data":{"values":[]},"mark":"point","view":{"stroke":"black","strokeWidth":1}},
{"width":40,"height":0.01,"data":{"values":[]},"mark":"point","view":{"stroke":"black","strokeWidth":1},
 "title":{"text":"Document Number: 34423","orient":"bottom","anchor":"end","frame":"group","offset":5,"baseline":"top","fontSize":8,"fontWeight":"normal","color":"black"}},
{"width":0.01,"height":0.01,"data":{"values":[]},"mark":"point"},

{"width":0.01,"height":0.01,"data":{"values":[]},"mark":"point"},
{"width":0.01,"height":0.01,"data":{"values":[]},"mark":"point"},
{"width":47,"height":0.01,"data":{"values":[]},"mark":"point",
 "title":{"text":"www.vishay.com/doc?91000","orient":"bottom","anchor":"start","frame":"group","offset":34,"baseline":"top","fontSize":7.8,"fontWeight":"normal","color":"#2a8ad2","dx":310}},
{"width":165,"height":0.01,"data":{"values":[]},"mark":"point",
 "title":{"text":"For technical questions, contact:","orient":"bottom","anchor":"end","frame":"group","offset":15,"baseline":"top","fontSize":8,"fontWeight":"normal","color":"black","dx":54}},
{"width":87,"height":0.01,"data":{"values":[]},"mark":"point",
 "title":{"text":"magnetics@vishay.com","orient":"bottom","anchor":"start","frame":"group","offset":15,"baseline":"top","fontSize":8,"fontWeight":"normal","color":"#2a8ad2","dx":56}},
{"width":165,"height":0.01,"data":{"values":[]},"mark":"point",
 "title":{"text":"THIS DOCUMENT IS SUBJECT TO CHANGE WITHOUT NOTICE. THE PRODUCTS DESCRIBED HEREIN AND THIS DOCUMENT","orient":"bottom","anchor":"middle","frame":"group","offset":26,"baseline":"top","fontSize":7.8,"fontWeight":"normal","color":"black","dx":-130}},
{"width":40,"height":0.01,"data":{"values":[]},"mark":"point",
 "title":{"text":"ARE SUBJECT TO SPECIFIC DISCLAIMERS, SET FORTH AT","orient":"bottom","anchor":"end","frame":"group","offset":34,"baseline":"top","fontSize":7.8,"fontWeight":"normal","color":"black","dx":-196}},
{"width":0.01,"height":0.01,"data":{"values":[]},"mark":"point"}
],
"config":{
 "font":"Liberation Sans",
 "view":{"stroke":null},
 "axis":{"labelFont":"Liberation Sans","labelFontSize":6.5,"labelColor":"#222","titleFont":"Liberation Sans","titleFontSize":7,"titleFontWeight":"bold","titleColor":"#000","domain":false,"tickColor":"#000","tickWidth":1,"gridColor":"#000","gridWidth":1.2},
 "title":{"font":"Liberation Sans"}
}
}
